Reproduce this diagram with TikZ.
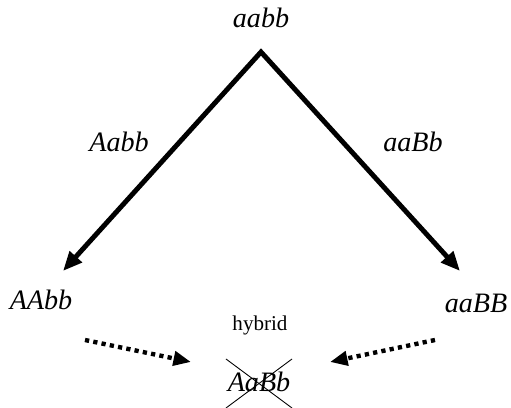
\documentclass[tikz,border=0pt]{standalone}
\usepackage{fontspec}
\setmainfont{Liberation Serif}
\usetikzlibrary{arrows.meta, positioning}

\begin{document}
\begin{tikzpicture}[x=0.02cm, y=-0.02cm,
  geno/.style={font=\fontsize{16}{19}\selectfont\itshape, inner sep=0pt},
  note/.style={font=\fontsize{12}{14}\selectfont, inner sep=0pt},
  cross/.style={{Triangle[length=11pt, width=9pt]}-{Triangle[length=11pt, width=9pt]}, line width=2.8pt, miter limit=20},
  dotarrow/.style={-{Triangle[length=10pt, width=8pt]}, line width=2.5pt, dash pattern=on 2.4pt off 2.4pt}]
\useasboundingbox (0,0) rectangle (511,408);
% genotypes
\node[geno] (top) at (261,18) {aabb};
\node[geno] (left) at (41,300) {AAbb};
\node[geno] (right) at (476,303) {aaBB};
\node[geno] (hyb) at (259,382) {AaBb};
\node[note] (hyblabel) at (260,325) {hybrid};
% gametes on the branches
\node[geno] (gamA) at (119,142) {Aabb};
\node[geno] (gamB) at (413,142) {aaBb};
% branch ends
\coordinate (apex) at (261,52);
\coordinate (ltip) at (63,271);
\coordinate (rtip) at (460,271);
\draw[cross] (ltip) -- (apex) -- (rtip);
% dotted arrows to the hybrid
\coordinate (ldot) at (85,340);
\coordinate (ldotend) at (191,362);
\coordinate (rdot) at (435,340);
\coordinate (rdotend) at (330,362);
\draw[dotarrow] (ldot) -- (ldotend);
\draw[dotarrow] (rdot) -- (rdotend);
% crossed out
\draw[line width=0.5pt] (hyb.center) ++(-33,-23) -- ++(66,49);
\draw[line width=0.5pt] (hyb.center) ++(33,-23) -- ++(-66,49);
\end{tikzpicture}
\end{document}
